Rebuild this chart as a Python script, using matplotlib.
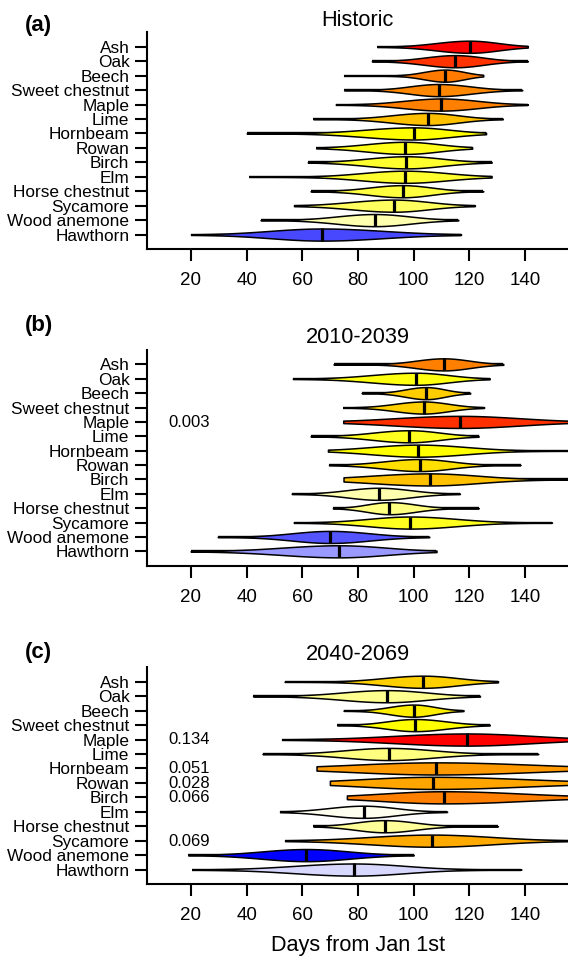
import numpy as np
import matplotlib
matplotlib.use("Agg")
import matplotlib.pyplot as plt

plt.rcParams['font.family'] = ['Liberation Sans', 'DejaVu Sans']

species = ["Ash", "Oak", "Beech", "Sweet chestnut", "Maple", "Lime", "Hornbeam",
           "Rowan", "Birch", "Elm", "Horse chestnut", "Sycamore", "Wood anemone", "Hawthorn"]
panel_titles = ["Historic", "2010-2039", "2040-2069"]
panel_letters = ["(a)", "(b)", "(c)"]
xtick_vals = [20, 40, 60, 80, 100, 120, 140]
xlabel_text = "Days from Jan 1st"

# ---- Panel (a) Historic ----
med_a = [120.1, 115, 111.4, 109, 110, 105, 100, 97, 97.4, 97, 96, 93, 86, 67]
lo_a = [87, 85, 75, 75, 72, 64, 40, 65, 62, 41, 63, 57, 45, 20]
hi_a = [141, 141, 125, 139, 141, 132, 126, 121, 128, 128, 125, 122, 116, 117]
vlo_a = [96, 93, 96, 88, 83, 79, 65, 69, 69, 66, 72, 62, 59, 30]
vhi_a = [141, 135, 125, 132, 136, 127, 126, 121, 123, 127, 117, 118, 111, 111]
col_a = ["#FF0000", "#FF3300", "#FF7A00", "#FF8800", "#FF8000", "#FFC000", "#FFFF00",
         "#FFFF1A", "#FFFF30", "#FFFF30", "#FFFF40", "#FFFF60", "#FFFFB0", "#4848FF"]
pval_a = {}

# ---- Panel (b) 2010-2039 ----
med_b = [110.8, 100.8, 104.5, 103.6, 116.6, 98.4, 101.7, 102.3, 105.8, 87.5, 91.3, 98.7, 70, 73.1]
lo_b = [71.2, 56.6, 81.3, 74.7, 74.7, 63, 69.2, 69.6, 74.8, 56.2, 71, 56.9, 29.6, 19.9]
hi_b = [132.2, 127.3, 120.3, 125.3, 160, 123.3, 160, 138.4, 160, 116.6, 123.4, 149.7, 105.6, 108.2]
vlo_b = [90.6, 68.6, 89.4, 82.9, 69.8, 72.5, 68, 76.4, 63, 64.7, 75, 68.6, 42.6, 32.2]
vhi_b = [129.6, 124.4, 118, 121.8, 160, 120.5, 136, 124.4, 141, 110, 110, 132.2, 98.4, 107.5]
col_b = ["#FF8000", "#FFFF10", "#FFCC00", "#FFD000", "#FF3000", "#FFFF20", "#FFFF00",
         "#FFE000", "#FFC000", "#FFFFB0", "#FFFF80", "#FFFF20", "#5555FF", "#9999FF"]
pval_b = {"Maple": "0.003"}

# ---- Panel (c) 2040-2069 ----
med_c = [103.4, 90.4, 100, 100.4, 119.2, 91, 108.2, 106.9, 110.8, 82, 89.6, 106.5, 61.4, 78.6]
lo_c = [53.6, 42.3, 74.8, 72.5, 52.7, 45.7, 65.1, 69.9, 76, 52, 64, 53.8, 19, 20.5]
hi_c = [130.3, 123.8, 117.9, 127.3, 160, 144.8, 160, 160, 160, 112, 130.3, 160, 100, 138.7]
vlo_c = [75, 58.2, 82.9, 80.3, 67.3, 59.5, 48, 55.5, 65.8, 56.9, 68.6, 62, 29.6, 36]
vhi_c = [128.3, 119.2, 115.3, 123.1, 166, 123.1, 178, 174, 168.6, 105, 111.4, 150, 92, 115.3]
col_c = ["#FFD000", "#FFFF90", "#FFEE00", "#FFFF00", "#FF0000", "#FFFF80", "#FF9900",
         "#FFA500", "#FF8000", "#FFFFF0", "#FFFF99", "#FFAA00", "#0000FF", "#D8D8FF"]
pval_c = {"Maple": "0.134", "Hornbeam": "0.051", "Rowan": "0.028",
          "Birch": "0.066", "Sycamore": "0.069"}

panels = [
    (med_a, lo_a, hi_a, vlo_a, vhi_a, col_a, pval_a),
    (med_b, lo_b, hi_b, vlo_b, vhi_b, col_b, pval_b),
    (med_c, lo_c, hi_c, vlo_c, vhi_c, col_c, pval_c),
]

W, H = 568, 957
fig = plt.figure(figsize=(W / 100, H / 100), dpi=100)

ax_left_px = 147.3
ax_tops = [32.3, 350.0, 667.3]
ax_bots = [249.0, 565.7, 884.0]
title_y = [26.1, 342.8, 659.5]      # baseline, px from top
letter_y = [25.0, 325.0, 652.7]     # centre, px from top

XLIM = (4.3, 155.45)
HALF = 0.42


def draw_violin(ax, y, med, lo, hi, vlo, vhi, color):
    xs = np.sort(np.append(np.linspace(lo, hi, 600), med))
    sl = max(med - vlo, 1e-3) / 2.0
    sr = max(vhi - med, 1e-3) / 2.0
    s = np.where(xs < med, sl, sr)
    w = HALF * np.exp(-0.5 * ((xs - med) / s) ** 2)
    ax.plot([lo, hi], [y, y], color="black", lw=1.7, solid_capstyle="butt", zorder=2)
    ax.fill_between(xs, y - w, y + w, facecolor=color, edgecolor="black", lw=1.1, zorder=3)
    ax.plot([med, med], [y - HALF, y + HALF], color="black", lw=2.3,
            solid_capstyle="butt", zorder=4)


n = len(species)
ypos = list(range(n, 0, -1))  # Ash at top

for i, (med, lo, hi, vlo, vhi, col, pv) in enumerate(panels):
    b = 1 - ax_bots[i] / H
    h = (ax_bots[i] - ax_tops[i]) / H
    l = ax_left_px / W
    ax = fig.add_axes([l, b, 1 - l, h])
    for k in range(n):
        draw_violin(ax, ypos[k], med[k], lo[k], hi[k], vlo[k], vhi[k], col[k])
    for name, txt in pv.items():
        k = species.index(name)
        ax.text(11.75, ypos[k] - 0.03, txt, fontsize=12, va="center", ha="left")
    ax.set_xlim(*XLIM)
    ax.set_ylim(0, 15)
    ax.set_yticks(ypos)
    ax.set_yticklabels(species)
    ax.set_xticks(xtick_vals)
    ax.set_xticklabels([str(v) for v in xtick_vals])
    for sp in ["top", "right"]:
        ax.spines[sp].set_visible(False)
    for sp in ["left", "bottom"]:
        ax.spines[sp].set_linewidth(1.5)
    ax.tick_params(axis="y", length=8.6, width=1.5, pad=4.3, labelsize=12.4)
    ax.tick_params(axis="x", length=8.6, width=1.5, pad=8.0, labelsize=13.5)
    cx = (ax_left_px + W) / 2 / W
    fig.text(cx, 1 - title_y[i] / H, panel_titles[i], fontsize=15.7,
             ha="center", va="baseline")
    fig.text(25 / W, 1 - letter_y[i] / H, panel_letters[i], fontsize=16,
             fontweight="bold", ha="left", va="center")

fig.text((ax_left_px + W) / 2 / W, 1 - 945 / H, xlabel_text, fontsize=15.6,
         ha="center", va="center")

fig.savefig("out.png", dpi=100)
